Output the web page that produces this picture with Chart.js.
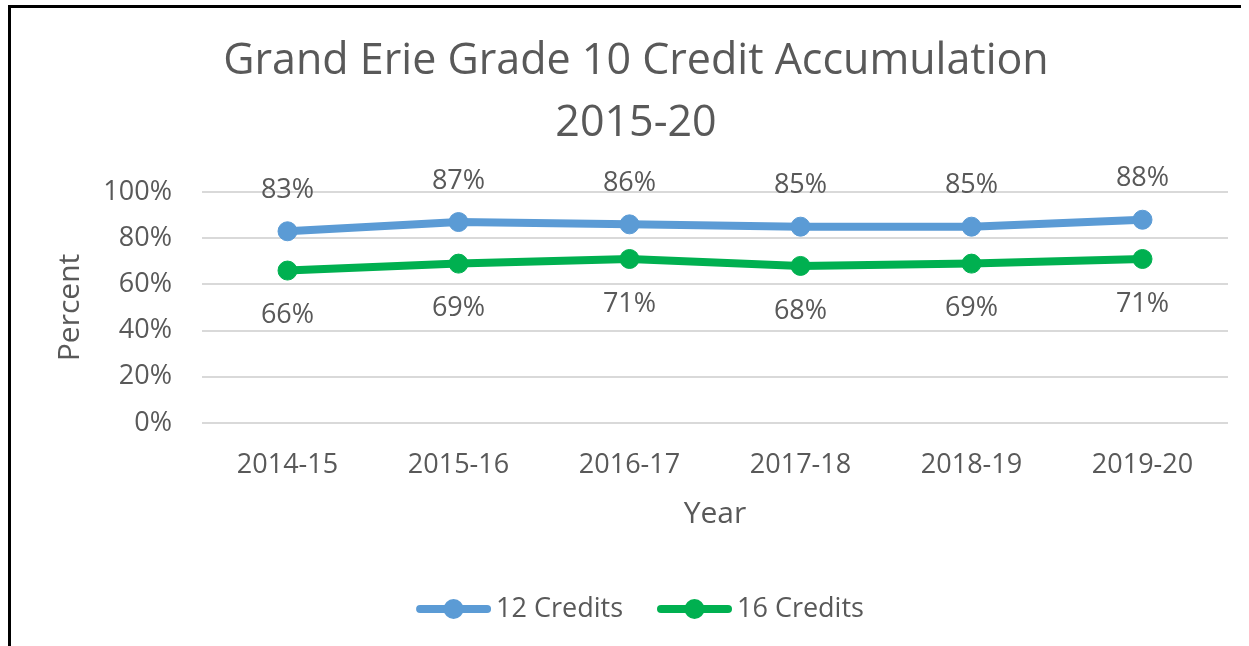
<!DOCTYPE html>
<html>
<head>
<meta charset="utf-8">
<script src="https://cdn.jsdelivr.net/npm/chart.js@4.4.1/dist/chart.umd.min.js"></script>
<style>
  html, body { margin: 0; padding: 0; background: #ffffff; }
  #wrap { position: relative; width: 1249px; height: 646px; overflow: hidden; }
  #frame { position: absolute; left: 8px; top: 5px; width: 1233px; height: 700px;
           border-left: 3px solid #000; border-top: 3px solid #000; box-sizing: border-box; }
  #c { position: absolute; left: 0; top: 0; }
</style>
</head>
<body>
<div id="wrap">
  <div id="frame"></div>
  <canvas id="c" width="1249" height="646"></canvas>
</div>
<script>
const titleLines = ["Grand Erie Grade 10 Credit Accumulation", "2015-20"];
const years = ["2014-15", "2015-16", "2016-17", "2017-18", "2018-19", "2019-20"];
const credits12 = [83, 87, 86, 85, 85, 88];
const credits16 = [66, 69, 71, 68, 69, 71];
const seriesNames = ["12 Credits", "16 Credits"];
const yTicks = [0, 20, 40, 60, 80, 100];

const FONT = "'Open Sans', 'DejaVu Sans', sans-serif";
const TEXT = "#595959";
const BLUE = "#5B9BD5";
const GREEN = "#00B050";

const labelPlugin = {
  id: 'valueLabels',
  afterDatasetsDraw(chart) {
    const ctx = chart.ctx;
    ctx.save();
    ctx.font = "27px " + FONT;
    ctx.fillStyle = TEXT;
    ctx.textAlign = 'center';
    ctx.textBaseline = 'middle';
    chart.data.datasets.forEach((ds, di) => {
      const meta = chart.getDatasetMeta(di);
      meta.data.forEach((pt, i) => {
        const off = ds.labelPos === 'above' ? -41 : 45;
        ctx.fillText(ds.data[i] + '%', pt.x, pt.y + off);
      });
    });
    ctx.restore();
  }
};

const legendPlugin = {
  id: 'lineLegend',
  afterDraw(chart) {
    const ctx = chart.ctx;
    ctx.save();
    ctx.font = "27px " + FONT;
    const lineW = 75, gapText = 5, gapItem = 34;
    const items = chart.data.datasets.map(ds => ({
      label: ds.label, color: ds.borderColor, w: lineW + gapText + ctx.measureText(ds.label).width
    }));
    const total = items.reduce((s, it) => s + it.w, 0) + gapItem * (items.length - 1);
    let x = 640 - total / 2;
    const y = chart.height - 37;
    items.forEach(it => {
      ctx.strokeStyle = it.color;
      ctx.lineWidth = 8;
      ctx.lineCap = 'round';
      ctx.beginPath();
      ctx.moveTo(x + 4, y);
      ctx.lineTo(x + lineW - 4, y);
      ctx.stroke();
      ctx.fillStyle = it.color;
      ctx.beginPath();
      ctx.arc(x + lineW / 2, y, 10, 0, Math.PI * 2);
      ctx.fill();
      ctx.fillStyle = TEXT;
      ctx.textAlign = 'left';
      ctx.textBaseline = 'middle';
      ctx.fillText(it.label, x + lineW + gapText, y);
      x += it.w + gapItem;
    });
    ctx.restore();
  }
};

new Chart(document.getElementById('c'), {
  type: 'line',
  data: {
    labels: years,
    datasets: [
      {
        label: seriesNames[0], data: credits12, labelPos: 'above',
        borderColor: BLUE, backgroundColor: BLUE, borderWidth: 8,
        pointRadius: 9.5, pointBorderWidth: 1, pointBorderColor: BLUE, pointBackgroundColor: BLUE,
        tension: 0, clip: false
      },
      {
        label: seriesNames[1], data: credits16, labelPos: 'below',
        borderColor: GREEN, backgroundColor: GREEN, borderWidth: 8,
        pointRadius: 9.5, pointBorderWidth: 1, pointBorderColor: GREEN, pointBackgroundColor: GREEN,
        tension: 0, clip: false
      }
    ]
  },
  options: {
    responsive: false,
    animation: false,
    devicePixelRatio: 1,
    layout: { padding: { left: 44, right: 21, top: 0, bottom: 93 } },
    plugins: {
      legend: { display: false },
      tooltip: { enabled: false },
      title: {
        display: true, text: titleLines, color: TEXT,
        font: { family: FONT, size: 43, weight: 'normal', lineHeight: 1.442 },
        padding: { top: 31, bottom: 37 }
      }
    },
    scales: {
      x: {
        offset: true,
        grid: { display: false, drawTicks: false },
        border: { display: false },
        ticks: { color: TEXT, font: { family: FONT, size: 27 }, padding: 26, maxRotation: 0 },
        title: { display: true, text: 'Year', color: TEXT, font: { family: FONT, size: 30 }, padding: { top: 0, bottom: 21 } },
        afterFit(scale) { scale.height = 130; }
      },
      y: {
        min: 0, max: 100,
        afterBuildTicks(scale) { scale.ticks = yTicks.map(v => ({ value: v })); },
        grid: { color: '#d9d9d9', lineWidth: 2, drawTicks: false },
        border: { display: false },
        ticks: { color: TEXT, font: { family: FONT, size: 27 }, padding: 30, callback: v => v + '%' },
        title: { display: true, text: 'Percent', color: TEXT, font: { family: FONT, size: 30 }, padding: { top: 8, bottom: 0 } },
        afterFit(scale) { scale.width = 158; }
      }
    }
  },
  plugins: [labelPlugin, legendPlugin]
});
</script>
</body>
</html>
